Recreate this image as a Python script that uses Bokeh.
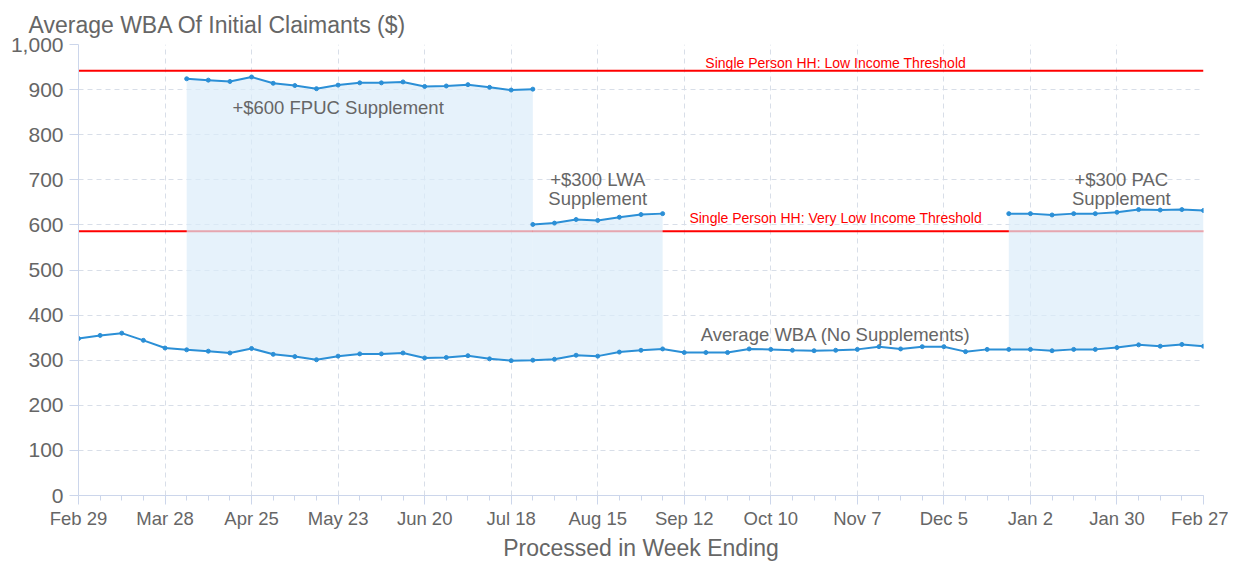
import pandas as pd
from bokeh.plotting import figure
from bokeh.models import (FixedTicker, NumeralTickFormatter, Span, Label,
                          ColumnDataSource, Range1d)
from bokeh.embed import file_html
from bokeh.resources import INLINE

# ---- data -------------------------------------------------------------
week_ending = pd.date_range("2020-02-29", periods=53, freq="7D")
week_idx = list(range(53))

base_wba = [348, 355, 360, 344, 327, 323, 320, 316, 326, 313, 308, 301, 309,
            314, 314, 316, 305, 306, 310, 303, 299, 300, 302, 311, 309, 318,
            322, 325, 317, 317, 317, 325, 324, 322, 321, 322, 324, 330, 325,
            330, 330, 319, 324, 324, 324, 321, 324, 324, 328, 334, 331, 335,
            331]

fpuc_weeks = list(range(5, 22))
fpuc_wba = [924, 921, 918, 928, 914, 909, 902, 910, 915, 915, 917, 907, 908,
            911, 905, 899, 901]

lwa_weeks = list(range(21, 28))
lwa_wba = [601, 604, 612, 610, 617, 623, 625]

pac_weeks = list(range(43, 53))
pac_wba = [625, 625, 622, 625, 625, 628, 634, 633, 634, 632]

low_income_threshold = 942
very_low_income_threshold = 586

tick_weeks = list(range(0, 53, 4))
tick_labels = [week_ending[i].strftime("%b ") + str(week_ending[i].day)
               for i in tick_weeks]

# ---- styles -----------------------------------------------------------
LINE = "#2b8fd6"
SHADE = "#dcecf9"
GREY = "#666666"
GRID = "#d8dee8"
AXIS = "#ccd6eb"
FONT = "Liberation Sans"

p = figure(width=1228, height=563, output_backend="svg", toolbar_location=None,
           x_range=Range1d(0, 52), y_range=Range1d(0, 1000),
           min_border_left=78, min_border_right=25, min_border_top=44,
           min_border_bottom=0)
p.outline_line_color = None
p.background_fill_color = "white"

p.title.text = "Average WBA Of Initial Claimants ($)"
p.title.text_font = FONT
p.title.text_font_size = "23px"
p.title.text_font_style = "normal"
p.title.text_color = GREY
p.title.text_line_height = 1.45
p.title.align = "left"
p.title.vertical_align = "top"
p.title.offset = -50
p.title.standoff = 10

# threshold lines (underneath the shading)
for loc in (low_income_threshold, very_low_income_threshold):
    p.add_layout(Span(location=loc, dimension="width", line_color="#ff0000",
                      line_width=2, level="underlay"))

# shaded supplement bands
base_map = dict(zip(week_idx, base_wba))
for wks, vals in ((fpuc_weeks, fpuc_wba), (lwa_weeks, lwa_wba),
                  (pac_weeks, pac_wba)):
    src = ColumnDataSource(dict(x=wks, top=vals,
                                bottom=[base_map[w] for w in wks]))
    p.varea(x="x", y1="bottom", y2="top", source=src, fill_color=SHADE,
            fill_alpha=0.7)

# lines
for wks, vals in ((week_idx, base_wba), (fpuc_weeks, fpuc_wba),
                  (lwa_weeks, lwa_wba), (pac_weeks, pac_wba)):
    p.line(wks, vals, line_color=LINE, line_width=2)
    p.scatter(wks, vals, size=4, fill_color=LINE, line_color=LINE)

# text annotations
def lab(x, y, t, size="18.5px", color=GREY):
    p.add_layout(Label(x=x, y=y, text=t, text_align="center",
                       text_baseline="middle", text_font=FONT,
                       text_font_size=size, text_color=color))

lab(12.0, 861, "+$600 FPUC Supplement")
lab(24.0, 700, "+$300 LWA")
lab(24.0, 658, "Supplement")
lab(48.2, 700, "+$300 PAC")
lab(48.2, 658, "Supplement")
lab(35.0, 358, "Average WBA (No Supplements)")
lab(35.0, 960, "Single Person HH: Low Income Threshold", "14px", "#ff0000")
lab(35.0, 616, "Single Person HH: Very Low Income Threshold", "14px", "#ff0000")

# axes
xa = p.xaxis[0]
xa.ticker = FixedTicker(ticks=tick_weeks, minor_ticks=week_idx)
xa.major_label_overrides = dict(zip(tick_weeks, tick_labels))
xa.axis_label = "Processed in Week Ending"
xa.axis_label_text_font = FONT
xa.axis_label_text_font_size = "23px"
xa.axis_label_text_font_style = "normal"
xa.axis_label_text_color = GREY
xa.axis_label_standoff = 3
xa.major_label_text_font = FONT
xa.major_label_text_font_size = "18.5px"
xa.major_label_text_color = GREY
xa.axis_line_color = AXIS
xa.major_tick_line_color = AXIS
xa.minor_tick_line_color = AXIS
xa.major_tick_out = 9
xa.major_tick_in = 0
xa.minor_tick_out = 5
xa.minor_tick_in = 0
xa.major_label_standoff = 3

ya = p.yaxis[0]
ya.ticker = FixedTicker(ticks=list(range(0, 1001, 100)))
ya.formatter = NumeralTickFormatter(format="0,0")
ya.major_label_text_font = FONT
ya.major_label_text_font_size = "21px"
ya.major_label_text_color = GREY
ya.axis_line_color = AXIS
ya.major_tick_line_color = AXIS
ya.major_tick_out = 9
ya.major_tick_in = 0
ya.minor_tick_line_color = None
ya.major_label_standoff = 6

p.xgrid.grid_line_color = GRID
p.xgrid.grid_line_dash = "5 4"
p.ygrid.grid_line_color = GRID
p.ygrid.grid_line_dash = "5 4"

open("out.html", "w").write(file_html(p, INLINE))
